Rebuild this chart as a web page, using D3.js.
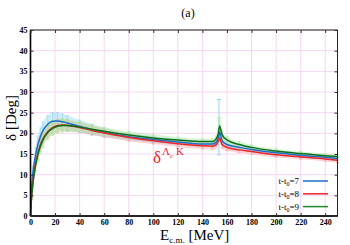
<!DOCTYPE html>
<html>
<head>
<meta charset="utf-8">
<script src="https://cdn.jsdelivr.net/npm/d3@7"></script>
<style>
  body { margin: 0; background: #fff; }
  svg { display: block; }
  text { font-family: "Liberation Serif", "DejaVu Serif", serif; }
</style>
</head>
<body>
<svg id="chart" width="350" height="245"></svg>
<script>
const energy = [0, 1, 2, 4, 6, 8, 10, 14, 18, 22, 26, 30, 40, 50, 60, 80, 100, 120, 140, 148, 151, 153, 154, 156, 160, 170, 180, 200, 220, 240, 250];

// phase shifts (deg) per t-t0
const delta7 = [0, 7.0, 10.5, 14.5, 17.3, 19.2, 20.6, 22.2, 22.9, 23.0, 22.8, 22.5, 21.7, 20.9, 20.2, 19.2, 18.5, 17.9, 17.4, 17.4, 17.8, 19.0, 20.3, 18.2, 17.3, 16.6, 16.1, 15.3, 14.7, 14.2, 13.9];
const delta8 = [0, 5.5, 8.5, 12.5, 15.2, 17.2, 18.6, 20.4, 21.4, 21.9, 22.0, 21.9, 21.4, 20.7, 20.1, 19.0, 18.2, 17.5, 17.0, 16.9, 17.2, 18.2, 18.9, 17.3, 16.6, 16.0, 15.6, 14.8, 14.3, 13.8, 13.5];
const delta9 = [0, 5.0, 8.0, 12.0, 14.8, 16.8, 18.3, 20.2, 21.2, 21.7, 21.9, 21.9, 21.5, 21.0, 20.5, 19.6, 18.9, 18.4, 18.0, 18.0, 18.6, 20.0, 21.8, 19.7, 18.4, 17.3, 16.6, 15.7, 15.1, 14.6, 14.4];

// statistical errors (deg)
const err7 = [0, 1.2, 1.6, 1.9, 2.0, 2.1, 2.1, 2.1, 2.1, 2.0, 1.9, 1.8, 1.5, 1.3, 1.1, 0.9, 0.8, 0.7, 0.7, 0.7, 0.7, 0.8, 0.9, 0.8, 0.7, 0.6, 0.6, 0.5, 0.5, 0.5, 0.5];
const err8 = [0, 1.0, 1.3, 1.5, 1.6, 1.6, 1.6, 1.6, 1.5, 1.5, 1.4, 1.4, 1.2, 1.1, 1.0, 0.9, 0.8, 0.8, 0.8, 0.8, 0.8, 0.9, 1.0, 0.9, 0.8, 0.7, 0.7, 0.6, 0.6, 0.6, 0.6];
const err9 = [0, 1.0, 1.3, 1.5, 1.6, 1.7, 1.7, 1.7, 1.7, 1.6, 1.6, 1.5, 1.3, 1.1, 1.0, 0.9, 0.8, 0.7, 0.7, 0.7, 0.8, 1.0, 1.2, 1.0, 0.8, 0.7, 0.6, 0.6, 0.5, 0.5, 0.5];

// big error bars right at the threshold cusp: [E, lo, hi]
const cuspBar7 = [153.5, 14.8, 28.2];
const cuspBar9 = [153.5, 20.5, 23.7];

const xTicks = [0, 20, 40, 60, 80, 100, 120, 140, 160, 180, 200, 220, 240];
const yTicks = [0, 5, 10, 15, 20, 25, 30, 35, 40, 45];
const legendLabels = ["7", "8", "9"];

const colors = ["#1c6fc8", "#e8262c", "#1f8a2a"];
const bandColors = ["#8fd8f2", "#f7a0a0", "#a8eaa0"];

const svg = d3.select("#chart");
const pl = 30.5, pr = 337.5, pt = 30, pb = 216;

const x = d3.scaleLinear().domain([0, 250]).range([pl, pr]);
const y = d3.scaleLinear().domain([0, 45]).range([pb, pt]);

// grid
const grid = svg.append("g").attr("stroke", "#f2cdf0").attr("stroke-width", 0.8);
grid.selectAll("line.gx").data(xTicks.slice(1)).join("line")
    .attr("x1", d => x(d)).attr("x2", d => x(d)).attr("y1", pt).attr("y2", pb);
grid.selectAll("line.gy").data(yTicks.slice(1)).join("line")
    .attr("x1", pl).attr("x2", pr).attr("y1", d => y(d)).attr("y2", d => y(d));

const series = [
    { vals: delta7, err: err7 },
    { vals: delta8, err: err8 },
    { vals: delta9, err: err9 }
];

const plot = svg.append("g");

// error bands + bars
series.forEach((s, i) => {
    const pts = energy.map((e, j) => ({ e, v: s.vals[j], er: s.err[j] }));
    const area = d3.area()
        .x(d => x(d.e)).y0(d => y(d.v - d.er)).y1(d => y(d.v + d.er))
        .curve(d3.curveMonotoneX);
    plot.append("path").datum(pts)
        .attr("d", area)
        .attr("fill", bandColors[i]).attr("opacity", 0.45);

    const bars = plot.append("g").attr("stroke", bandColors[i]).attr("stroke-width", 0.7).attr("opacity", 0.9);
    const withErr = pts.filter(d => d.er > 0);
    bars.selectAll("line.v").data(withErr).join("line")
        .attr("x1", d => x(d.e)).attr("x2", d => x(d.e))
        .attr("y1", d => y(d.v - d.er)).attr("y2", d => y(d.v + d.er));
    bars.selectAll("line.c").data(withErr.flatMap(d => [d.v - d.er, d.v + d.er].map(v => ({ e: d.e, v })))).join("line")
        .attr("x1", d => x(d.e) - 1.5).attr("x2", d => x(d.e) + 1.5)
        .attr("y1", d => y(d.v)).attr("y2", d => y(d.v));
});

// cusp error bars
[[cuspBar7, bandColors[0]], [cuspBar9, bandColors[2]]].forEach(([b, c]) => {
    const g = plot.append("g").attr("stroke", c).attr("stroke-width", 1);
    g.append("line").attr("x1", x(b[0])).attr("x2", x(b[0])).attr("y1", y(b[1])).attr("y2", y(b[2]));
    [b[1], b[2]].forEach(v => g.append("line")
        .attr("x1", x(b[0]) - 2).attr("x2", x(b[0]) + 2).attr("y1", y(v)).attr("y2", y(v)));
});

// central curves
const line = d3.line().x((d, j) => x(energy[j])).y(d => y(d)).curve(d3.curveMonotoneX);
series.forEach((s, i) => {
    plot.append("path").datum(s.vals)
        .attr("d", line)
        .attr("fill", "none")
        .attr("stroke", i === 2 ? "#0f6e1c" : colors[i])
        .attr("stroke-width", 1.5);
});

// frame
svg.append("rect")
    .attr("x", pl).attr("y", pt).attr("width", pr - pl).attr("height", pb - pt)
    .attr("fill", "none").attr("stroke", "#222").attr("stroke-width", 1);
svg.append("line").attr("x1", pl).attr("x2", pl).attr("y1", pt).attr("y2", pb)
    .attr("stroke", "#000").attr("stroke-width", 1.6);
svg.append("line").attr("x1", pl).attr("x2", pr).attr("y1", pb).attr("y2", pb)
    .attr("stroke", "#000").attr("stroke-width", 1.6);

// axes with inward ticks
const xAxis = svg.append("g").attr("transform", `translate(0,${pb})`)
    .call(d3.axisBottom(x).tickValues(xTicks).tickSize(-3).tickPadding(3));
const xTop = svg.append("g").attr("transform", `translate(0,${pt})`)
    .call(d3.axisTop(x).tickValues(xTicks).tickSize(-3).tickFormat(""));
const yAxis = svg.append("g").attr("transform", `translate(${pl},0)`)
    .call(d3.axisLeft(y).tickValues(yTicks).tickSize(-3).tickPadding(3));
const yRight = svg.append("g").attr("transform", `translate(${pr},0)`)
    .call(d3.axisRight(y).tickValues(yTicks).tickSize(-3).tickFormat(""));
[xAxis, xTop, yAxis, yRight].forEach(a => {
    a.select(".domain").remove();
    a.selectAll(".tick line").attr("stroke", "#333");
});
[xAxis, yAxis].forEach(a => a.selectAll(".tick text")
    .attr("font-family", "Liberation Serif").attr("font-weight", "bold")
    .attr("font-size", 8).attr("fill", "#000"));

// title
svg.append("text").attr("x", 188).attr("y", 17).attr("text-anchor", "middle")
    .attr("font-size", 12).text("(a)");

// axis labels
svg.append("text")
    .attr("transform", "translate(16,118) rotate(-90)")
    .attr("text-anchor", "middle").attr("font-size", 15)
    .text("δ [Deg]");
const xl = svg.append("text").attr("x", 160).attr("y", 239.5).attr("font-size", 15);
xl.append("tspan").text("E");
xl.append("tspan").attr("font-size", 9).attr("dy", 3).text("c.m.");
xl.append("tspan").attr("dy", -3).text(" [MeV]");

// curve annotation
const ann = svg.append("text").attr("x", 153).attr("y", 163).attr("fill", "#e8262c").attr("font-size", 17);
ann.append("tspan").text("δ");
ann.append("tspan").attr("font-size", 11).attr("dy", -8).attr("dx", 1).text("Λ");
ann.append("tspan").attr("font-size", 7).attr("dy", 3).text("c");
ann.append("tspan").attr("font-size", 11).attr("dy", -3).attr("dx", 3).text("K");

// legend
const legend = svg.append("g");
legendLabels.forEach((lab, i) => {
    const ly = 181 + i * 12.8;
    const t = legend.append("text").attr("x", 299).attr("y", ly + 3).attr("text-anchor", "end").attr("font-size", 9);
    t.append("tspan").text("t-t");
    t.append("tspan").attr("font-size", 6).attr("dy", 2).text("0");
    t.append("tspan").attr("dy", -2).text("=" + lab);
    legend.append("line").attr("x1", 303).attr("x2", 328).attr("y1", ly).attr("y2", ly)
        .attr("stroke", colors[i]).attr("stroke-width", 1.5);
});
</script>
</body>
</html>
